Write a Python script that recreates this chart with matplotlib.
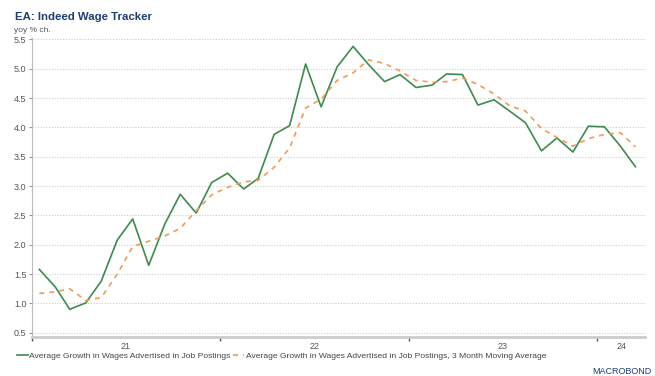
import matplotlib.pyplot as plt
import pandas as pd

plt.rcParams['font.family'] = ['Liberation Sans', 'DejaVu Sans']

# monthly data, Jan 2021 - Mar 2024 (plotted mid-month)
dates = pd.date_range('2021-01-01', periods=39, freq='MS') + pd.Timedelta(days=14)

wage_growth = [1.58, 1.28, 0.90, 1.01, 1.38, 2.08, 2.44, 1.65, 2.35, 2.86, 2.54, 3.06,
               3.22, 2.95, 3.13, 3.88, 4.03, 5.08, 4.35, 5.03, 5.38, 5.07, 4.78, 4.90,
               4.68, 4.72, 4.91, 4.90, 4.38, 4.47, 4.28, 4.08, 3.60, 3.82, 3.58, 4.02,
               4.01, 3.68, 3.33]

wage_growth_3m = [1.17, 1.20, 1.25, 1.05, 1.10, 1.50, 1.97, 2.06, 2.15, 2.28, 2.58, 2.85,
                  2.98, 3.07, 3.10, 3.32, 3.65, 4.33, 4.48, 4.80, 4.93, 5.15, 5.09, 4.96,
                  4.80, 4.77, 4.78, 4.84, 4.73, 4.57, 4.37, 4.28, 3.98, 3.83, 3.68, 3.81,
                  3.88, 3.91, 3.67]

year_labels = ['21', '22', '23', '24']

fig = plt.figure(figsize=(6.55, 3.76), dpi=100)
ax = fig.add_axes([0.049, 0.104, 0.936, 0.796])

ax.plot(dates, wage_growth, color='#3d8b4f', lw=1.2,
        label='Average Growth in Wages Advertised in Job Postings')
ax.plot(dates, wage_growth_3m, color='#f39a55', lw=1.2, ls=(0, (3, 3)),
        label='Average Growth in Wages Advertised in Job Postings, 3 Month Moving Average')

xmin = pd.Timestamp('2021-01-01')
xmax = pd.Timestamp('2024-04-03')
ax.set_xlim(xmin, xmax)
ax.set_ylim(0.43, 5.53)

# year boundaries as tick marks, labels in the middle of each year
ax.set_xticks([pd.Timestamp(f'{y}-01-01') for y in range(2021, 2025)])
ax.set_xticklabels([])
label_pos = [pd.Timestamp('2021-07-02'), pd.Timestamp('2022-07-02'),
             pd.Timestamp('2023-07-02'), pd.Timestamp('2024-01-01') + (xmax - pd.Timestamp('2024-01-01')) / 2]
ax.set_xticks(label_pos, minor=True)
ax.set_xticklabels(year_labels, minor=True)
ax.tick_params(axis='x', which='major', length=3, color='#555555', width=1)
ax.tick_params(axis='x', which='minor', length=0, labelsize=6.5, labelcolor='#555555', pad=4)

yt = [0.5 + 0.5 * i for i in range(11)]
ax.set_yticks(yt)
ax.set_yticklabels([f'{v:.1f}' for v in yt])
ax.tick_params(axis='y', length=2, color='#999999', labelsize=6.5, labelcolor='#555555', pad=2)

ax.grid(axis='y', color='#cccccc', ls=(0, (1, 1.5)), lw=0.8)
ax.set_axisbelow(True)
for s in ['top', 'right']:
    ax.spines[s].set_visible(False)
ax.spines['left'].set_color('#bbbbbb')
ax.spines['left'].set_linewidth(0.8)
ax.spines['bottom'].set_color('#cccccc')
ax.spines['bottom'].set_linewidth(2)

fig.text(0.023, 0.955, 'EA: Indeed Wage Tracker', fontsize=8.2, fontweight='bold',
         color='#1f3f73', va='center')
fig.text(0.021, 0.92, 'yoy % ch.', fontsize=6, color='#555555', va='center')

fig.legend(loc='center left', bbox_to_anchor=(0.014, 0.052), ncol=2, frameon=False,
           fontsize=6.1, handlelength=1.3, handletextpad=0.15, columnspacing=0.35,
           labelcolor='#444444')

fig.text(0.904, 0.001, 'MACROBOND', fontsize=6.5, color='#1f3f73', va='bottom')

fig.savefig('out.png', dpi=100)
